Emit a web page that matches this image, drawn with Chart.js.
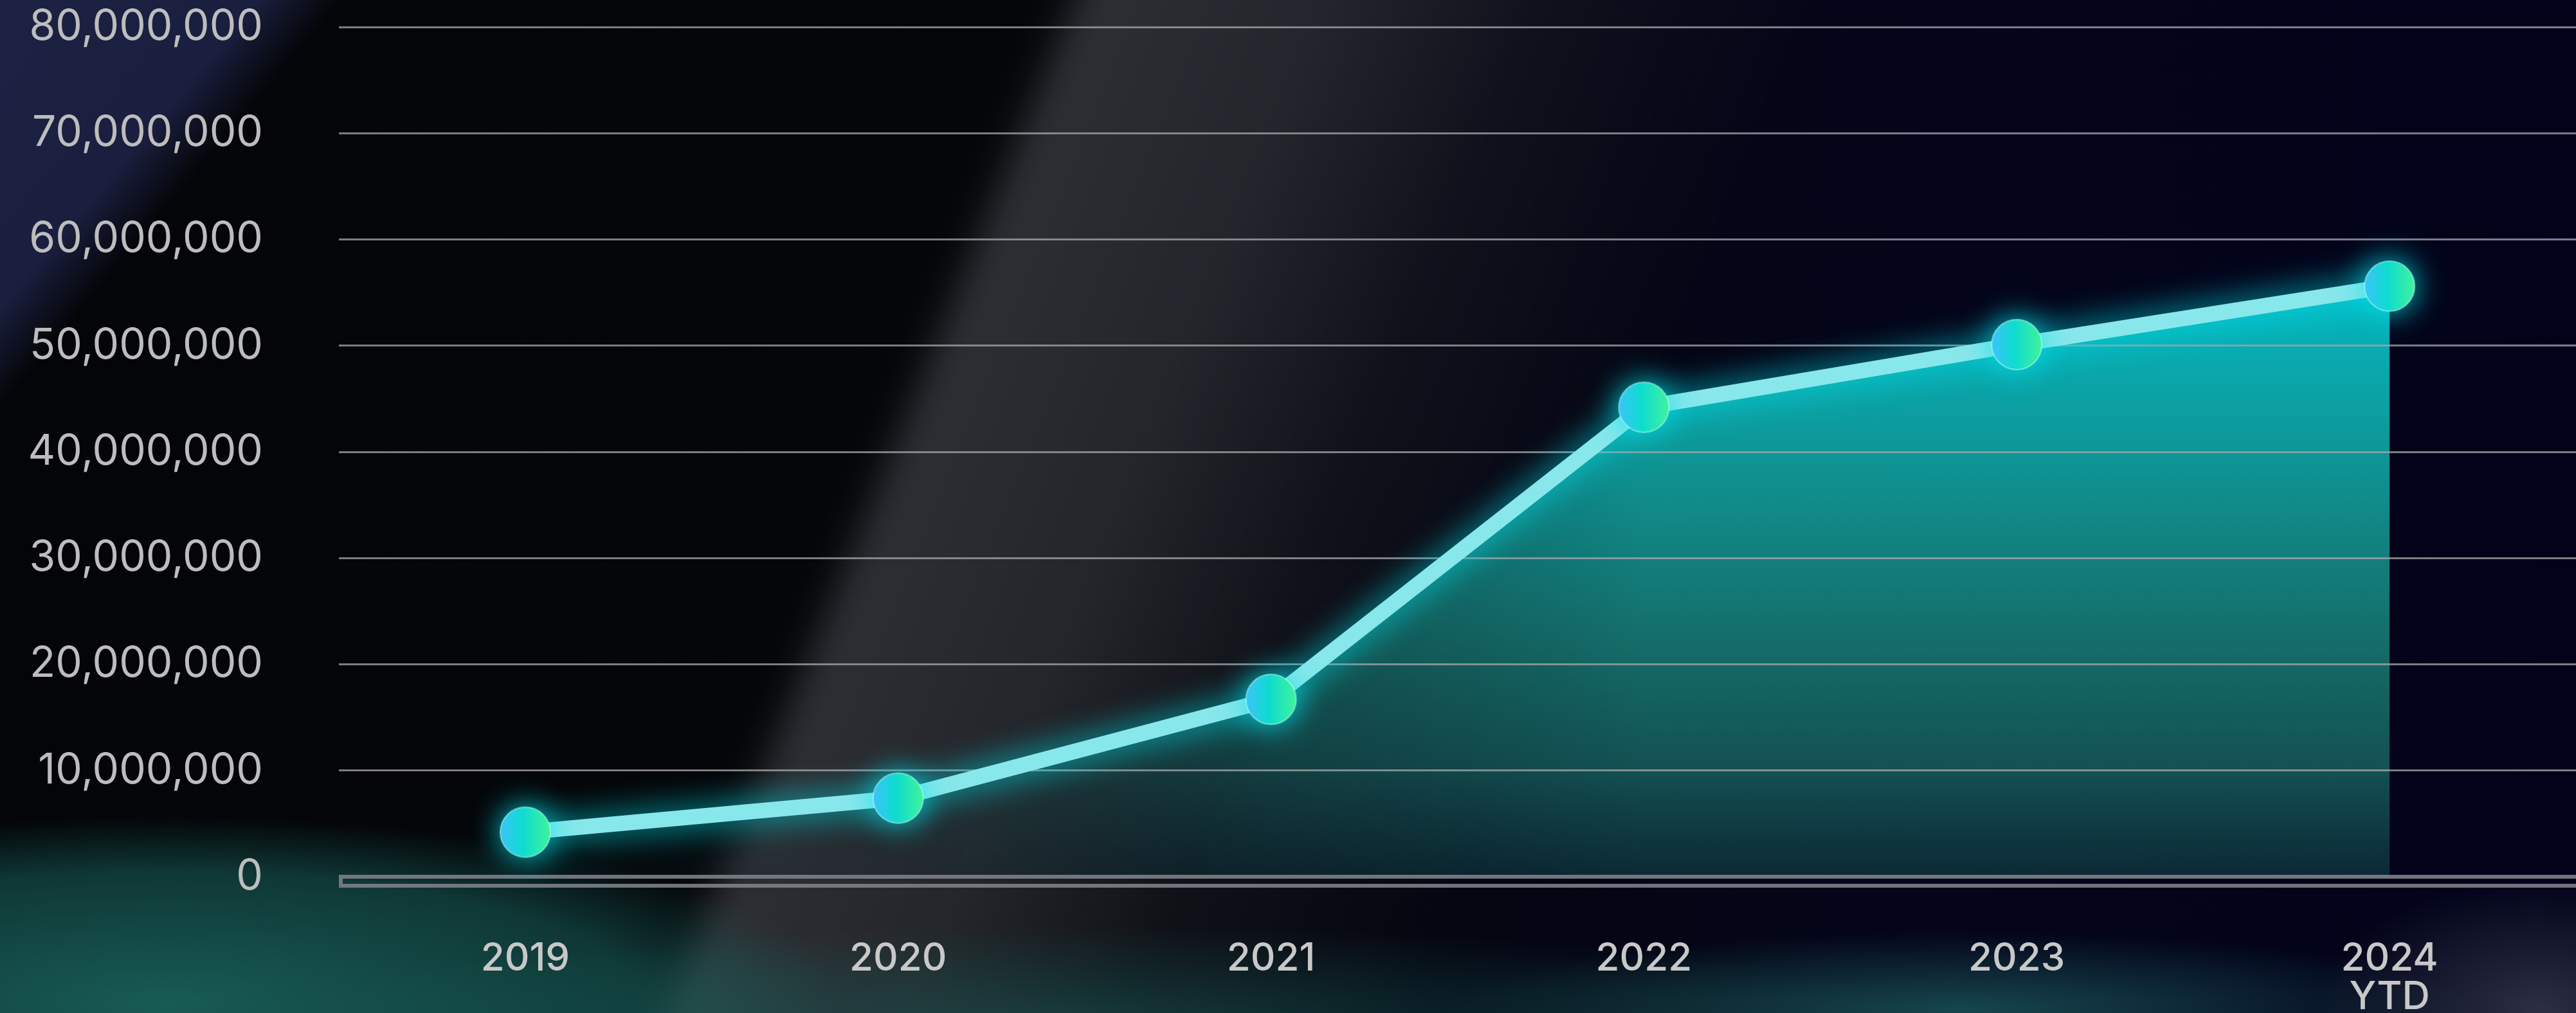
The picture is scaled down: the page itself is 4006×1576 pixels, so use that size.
<!DOCTYPE html>
<html>
<head>
<meta charset="utf-8">
<script src="https://cdn.jsdelivr.net/npm/chart.js@4.4.1/dist/chart.umd.min.js"></script>
<style>
  html, body { margin: 0; padding: 0; width: 4006px; height: 1576px; overflow: hidden; background: #03040a; }
  #bg { position: absolute; left: 0; top: 0; width: 4006px; height: 1576px; overflow: hidden;
        background: linear-gradient(90deg, #040508 0%, #050609 40%, #04051a 75%, #02031a 100%); }
  #bg div { position: absolute; }
  .navy { left: 0; top: 0; width: 4006px; height: 1576px;
          background: linear-gradient(130deg, #1d2244 0%, #1a1f3f 7.5%, rgba(20,24,50,0) 10%); }
  .beam { left: 1360px; top: -512px; width: 1100px; height: 2600px; transform: rotate(22deg);
          background: linear-gradient(90deg, rgba(60,62,68,0) 0%, rgba(66,68,74,0.65) 6%, rgba(58,61,67,0.58) 35%, rgba(40,42,50,0.3) 65%, rgba(30,32,40,0) 100%);
          filter: blur(18px); }
  .waves { left: 0; top: 0; width: 4006px; height: 1576px;
           background:
             radial-gradient(1050px 290px at 260px 1560px, rgba(32,128,118,0.7) 0%, rgba(25,105,98,0.5) 70%, rgba(20,90,85,0) 100%),
             radial-gradient(1300px 150px at 1700px 1590px, rgba(25,105,100,0.45), rgba(0,0,0,0)),
             radial-gradient(800px 120px at 3050px 1570px, rgba(40,135,128,0.5), rgba(0,0,0,0)),
             radial-gradient(350px 200px at 3950px 1570px, rgba(120,130,140,0.35), rgba(0,0,0,0)); }
  #chart { position: absolute; left: 0; top: 0; }
</style>
</head>
<body>
<div id="bg">
  <div class="navy"></div>
  <div class="beam"></div>
  <div class="waves"></div>
</div>
<canvas id="chart" width="4006" height="1576"></canvas>
<script>
// Dados do gráfico
const years = ['2019', '2020', '2021', '2022', '2023', ['2024', 'YTD']];
const totals = [4200000, 7400000, 16700000, 44200000, 50100000, 55600000];
const yMin = 0;
const yMax = 80000000;
const yStep = 10000000;

// ponto com gradiente azul -> verde
function makeDot(r) {
    const c = document.createElement('canvas');
    c.width = c.height = r * 2 + 4;
    const g = c.getContext('2d');
    const cx = r + 2;
    const grad = g.createLinearGradient(2, 0, r * 2 + 2, 0);
    grad.addColorStop(0, '#3cc4fa');
    grad.addColorStop(0.45, '#0fdcd0');
    grad.addColorStop(1, '#40f39c');
    g.beginPath();
    g.arc(cx, cx, r, 0, Math.PI * 2);
    g.fillStyle = grad;
    g.fill();
    g.lineWidth = 2;
    g.strokeStyle = 'rgba(190,255,240,0.55)';
    g.stroke();
    return c;
}
const dot = makeDot(39);

// área preenchida (gradiente vertical + fade horizontal), desenhada antes da grade
const areaFill = {
    id: 'areaFill',
    beforeDraw(chart) {
        const pts = chart.getDatasetMeta(0).data;
        if (!pts.length) return;
        const zero = chart.scales.y.getPixelForValue(0);
        const off = document.createElement('canvas');
        off.width = chart.width;
        off.height = chart.height;
        const o = off.getContext('2d');
        o.beginPath();
        o.moveTo(pts[0].x, zero);
        pts.forEach(p => o.lineTo(p.x, p.y));
        o.lineTo(pts[pts.length - 1].x, zero);
        o.closePath();
        const topY = Math.min(...pts.map(p => p.y));
        const vg = o.createLinearGradient(0, topY, 0, zero);
        vg.addColorStop(0, 'rgba(5,185,195,1)');
        vg.addColorStop(0.28, 'rgba(15,155,155,0.97)');
        vg.addColorStop(0.6, 'rgba(22,118,112,0.93)');
        vg.addColorStop(0.82, 'rgba(22,92,92,0.88)');
        vg.addColorStop(1, 'rgba(15,52,62,0.78)');
        o.fillStyle = vg;
        o.fill();
        o.globalCompositeOperation = 'destination-in';
        const hg = o.createLinearGradient(pts[1].x, 0, pts[3].x, 0);
        hg.addColorStop(0, 'rgba(0,0,0,0.15)');
        hg.addColorStop(0.5, 'rgba(0,0,0,0.7)');
        hg.addColorStop(1, 'rgba(0,0,0,1)');
        o.fillStyle = hg;
        o.fillRect(0, 0, off.width, off.height);
        chart.ctx.drawImage(off, 0, 0);
    }
};

// eixo zero em forma de barra dupla
const axisBar = {
    id: 'axisBar',
    beforeDatasetsDraw(chart) {
        const { ctx, chartArea } = chart;
        const y0 = chart.scales.y.getPixelForValue(0);
        ctx.save();
        ctx.strokeStyle = 'rgba(125,128,136,0.9)';
        ctx.lineWidth = 6;
        ctx.strokeRect(chartArea.left + 3, y0, chartArea.right - chartArea.left + 20, 14);
        ctx.restore();
    }
};

// brilho na linha e nos pontos
const glow = {
    id: 'glow',
    beforeDatasetDraw(chart) {
        const ctx = chart.ctx;
        ctx.save();
        ctx.shadowColor = 'rgba(0,225,235,0.9)';
        ctx.shadowBlur = 50;
    },
    afterDatasetDraw(chart) {
        chart.ctx.restore();
    }
};

new Chart(document.getElementById('chart'), {
    type: 'line',
    data: {
        labels: years,
        datasets: [{
            data: totals,
            borderColor: '#88e7eb',
            borderWidth: 24,
            fill: false,
            tension: 0,
            pointStyle: dot,
            pointRadius: 39,
            pointHoverRadius: 39,
            borderCapStyle: 'round',
            borderJoinStyle: 'round',
            clip: false
        }]
    },
    options: {
        responsive: false,
        animation: false,
        devicePixelRatio: 1,
        events: [],
        layout: { autoPadding: false, padding: { top: 42, left: 0, right: 0, bottom: 0 } },
        plugins: { legend: { display: false }, tooltip: { enabled: false } },
        scales: {
            x: {
                offset: true,
                grid: { display: false, drawTicks: false },
                border: { display: false },
                ticks: {
                    color: '#c8c8c8',
                    font: { family: 'Inter', size: 60, weight: '500', lineHeight: 1.0 },
                    padding: 98,
                    maxRotation: 0,
                    autoSkip: false
                },
                afterFit(s) { s.height = 212; s.paddingLeft = 0; s.paddingRight = 0; }
            },
            y: {
                min: yMin,
                max: yMax,
                ticks: {
                    stepSize: yStep,
                    color: '#bdbdbd',
                    font: { family: 'Inter', size: 66 },
                    padding: 118,
                    callback: v => v.toLocaleString('en-US')
                },
                grid: {
                    drawTicks: false,
                    lineWidth: 3,
                    color: c => c.tick && c.tick.value === 0 ? 'rgba(0,0,0,0)' : 'rgba(165,165,170,0.75)'
                },
                border: { display: false },
                afterFit(s) { s.width = 527; s.paddingTop = 0; s.paddingBottom = 0; }
            }
        }
    },
    plugins: [areaFill, axisBar, glow]
});
</script>
</body>
</html>
